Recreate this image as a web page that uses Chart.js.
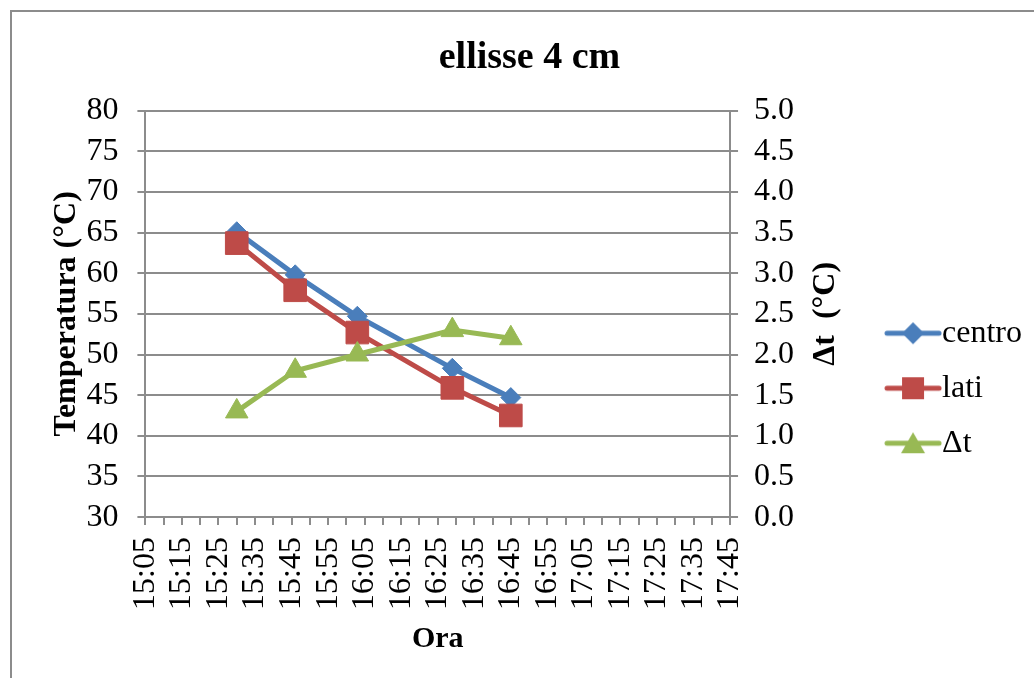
<!DOCTYPE html>
<html>
<head>
<meta charset="utf-8">
<title>ellisse 4 cm</title>
<script src="https://cdn.jsdelivr.net/npm/chart.js@4.4.1/dist/chart.umd.min.js"></script>
<style>
    body { margin: 0; background: #fff; overflow: hidden; }
    #cornice { position: absolute; left: 10px; top: 10px; width: 1100px; height: 800px;
               border: 2px solid #8c8c8c; box-sizing: border-box; }
    #box { position: absolute; left: 0; top: 0; width: 1034px; height: 678px; }
</style>
</head>
<body>
<div id="cornice"></div>
<div id="box"><canvas id="grafico"></canvas></div>
<script>
// Dati
const orari = ['15:30', '15:46', '16:03', '16:29', '16:45'];
const centro = [65.1, 59.8, 54.7, 48.3, 44.7];
const lati = [63.7, 57.9, 52.7, 45.9, 42.5];
const deltaT = [1.3, 1.8, 2.0, 2.3, 2.2];

// Etichette degli assi
const tickOrari = ['15:05', '15:15', '15:25', '15:35', '15:45', '15:55', '16:05', '16:15', '16:25',
                   '16:35', '16:45', '16:55', '17:05', '17:15', '17:25', '17:35', '17:45'];
const tickTemp = [30, 35, 40, 45, 50, 55, 60, 65, 70, 75, 80];
const tickDelta = [0, 0.5, 1, 1.5, 2, 2.5, 3, 3.5, 4, 4.5, 5];

const famiglia = "'Liberation Serif', 'Times New Roman', serif";
const grigio = '#8c8c8c';
const blu = '#4a7ebb';
const rosso = '#be4b48';
const verde = '#98b954';

function inMinuti(s) {
    const p = s.split(':');
    return parseInt(p[0]) * 60 + parseInt(p[1]);
}
function inOra(m) {
    const h = Math.floor(m / 60);
    const mm = m % 60;
    return h + ':' + (mm < 10 ? '0' : '') + mm;
}

function punti(valori) {
    return orari.map(function(o, i) { return { x: inMinuti(o), y: valori[i] }; });
}

// Piccola immagine linea + simbolo per la legenda
function simboloLegenda(colore, stile) {
    const c = document.createElement('canvas');
    c.width = 58; c.height = 28;
    const ctx = c.getContext('2d');
    ctx.strokeStyle = colore;
    ctx.fillStyle = colore;
    ctx.lineWidth = 5;
    ctx.lineCap = 'round';
    ctx.beginPath();
    ctx.moveTo(3, 14); ctx.lineTo(55, 14);
    ctx.stroke();
    ctx.beginPath();
    if (stile === 'rectRot') {
        ctx.moveTo(29, 3); ctx.lineTo(40, 14); ctx.lineTo(29, 25); ctx.lineTo(18, 14);
    } else if (stile === 'rect') {
        ctx.rect(18, 3, 22, 22);
    } else {
        ctx.moveTo(29, 3); ctx.lineTo(41, 24); ctx.lineTo(17, 24);
    }
    ctx.closePath();
    ctx.fill();
    return c;
}

// Titolo dell'asse destro, letto dal basso verso l'alto
const titoloDestro = {
    id: 'titoloDestro',
    afterDraw(chart) {
        const s = chart.scales.y2;
        const ctx = chart.ctx;
        ctx.save();
        ctx.translate(s.right - 51, (chart.chartArea.top + chart.chartArea.bottom) / 2);
        ctx.rotate(-Math.PI / 2);
        ctx.font = 'bold 32px ' + famiglia;
        ctx.fillStyle = '#000';
        ctx.textAlign = 'center';
        ctx.textBaseline = 'middle';
        ctx.fillText('\u0394t  (\u00b0C)', 0, 0);
        ctx.restore();
    }
};

const minX = inMinuti(tickOrari[0]);
const maxX = inMinuti(tickOrari[tickOrari.length - 1]);

new Chart(document.getElementById('grafico'), {
    type: 'line',
    data: {
        datasets: [{
            label: 'centro',
            data: punti(centro),
            borderColor: blu,
            backgroundColor: blu,
            borderWidth: 5,
            pointStyle: 'rectRot',
            pointRadius: 10,
            pointBorderWidth: 1,
            yAxisID: 'y',
            order: 2
        }, {
            label: 'lati',
            data: punti(lati),
            borderColor: rosso,
            backgroundColor: rosso,
            borderWidth: 5,
            pointStyle: 'rect',
            pointRadius: 16,
            pointBorderWidth: 1,
            yAxisID: 'y',
            order: 1
        }, {
            label: '\u0394t',
            data: punti(deltaT),
            borderColor: verde,
            backgroundColor: verde,
            borderWidth: 5,
            pointStyle: 'triangle',
            pointRadius: 13,
            pointBorderWidth: 1,
            yAxisID: 'y2',
            order: 0
        }]
    },
    options: {
        responsive: true,
        maintainAspectRatio: false,
        animation: false,
        layout: { padding: { left: 27, right: 2, top: 0, bottom: 21 } },
        scales: {
            x: {
                type: 'linear',
                min: minX,
                max: maxX,
                border: { color: grigio, width: 2 },
                grid: { drawOnChartArea: false, color: grigio, lineWidth: 2, tickLength: 8 },
                ticks: {
                    stepSize: 5,
                    autoSkip: false,
                    minRotation: 90,
                    maxRotation: 90,
                    padding: 12,
                    color: '#000',
                    font: { family: famiglia, size: 32 },
                    callback: function(v) {
                        const t = inOra(v);
                        return tickOrari.indexOf(t) >= 0 ? t : '';
                    }
                },
                title: {
                    display: true,
                    text: 'Ora',
                    color: '#000',
                    font: { family: famiglia, size: 30, weight: 'bold' },
                    padding: { top: -1, bottom: 0 }
                }
            },
            y: {
                position: 'left',
                min: tickTemp[0],
                max: tickTemp[tickTemp.length - 1],
                border: { color: grigio, width: 2 },
                grid: { color: grigio, lineWidth: 2, tickLength: 8 },
                afterBuildTicks: function(s) { s.ticks = tickTemp.map(function(v) { return { value: v }; }); },
                ticks: {
                    autoSkip: false,
                    padding: 19,
                    color: '#000',
                    font: { family: famiglia, size: 32 }
                },
                title: {
                    display: true,
                    text: 'Temperatura (\u00b0C)',
                    color: '#000',
                    font: { family: famiglia, size: 32, weight: 'bold' },
                    padding: { top: 21, bottom: -19 }
                }
            },
            y2: {
                position: 'right',
                min: tickDelta[0],
                max: tickDelta[tickDelta.length - 1],
                border: { color: grigio, width: 2 },
                grid: { drawOnChartArea: false, color: grigio, lineWidth: 2, tickLength: 8 },
                afterBuildTicks: function(s) { s.ticks = tickDelta.map(function(v) { return { value: v }; }); },
                afterFit: function(s) { s.width += 67; },
                ticks: {
                    autoSkip: false,
                    padding: 16,
                    color: '#000',
                    font: { family: famiglia, size: 32 },
                    callback: function(v) { return Number(v).toFixed(1); }
                }
            }
        },
        plugins: {
            title: {
                display: true,
                text: 'ellisse 4 cm',
                color: '#000',
                font: { family: famiglia, size: 38, weight: 'bold' },
                padding: { top: 35, bottom: 30 }
            },
            legend: {
                position: 'right',
                title: {
                    display: true,
                    text: '',
                    font: { size: 12 },
                    padding: { top: 105, bottom: 0 }
                },
                labels: {
                    usePointStyle: true,
                    pointStyleWidth: 26,
                    boxHeight: 28,
                    padding: 23,
                    color: '#000',
                    font: { family: famiglia, size: 32 },
                    generateLabels: function(chart) {
                        return chart.data.datasets.map(function(ds, i) {
                            return {
                                text: ds.label,
                                pointStyle: simboloLegenda(ds.borderColor, ds.pointStyle),
                                fillStyle: ds.backgroundColor,
                                strokeStyle: ds.borderColor,
                                lineWidth: 0,
                                fontColor: '#000',
                                datasetIndex: i
                            };
                        });
                    }
                }
            },
            tooltip: { enabled: false }
        }
    },
    plugins: [titoloDestro]
});
</script>
</body>
</html>
